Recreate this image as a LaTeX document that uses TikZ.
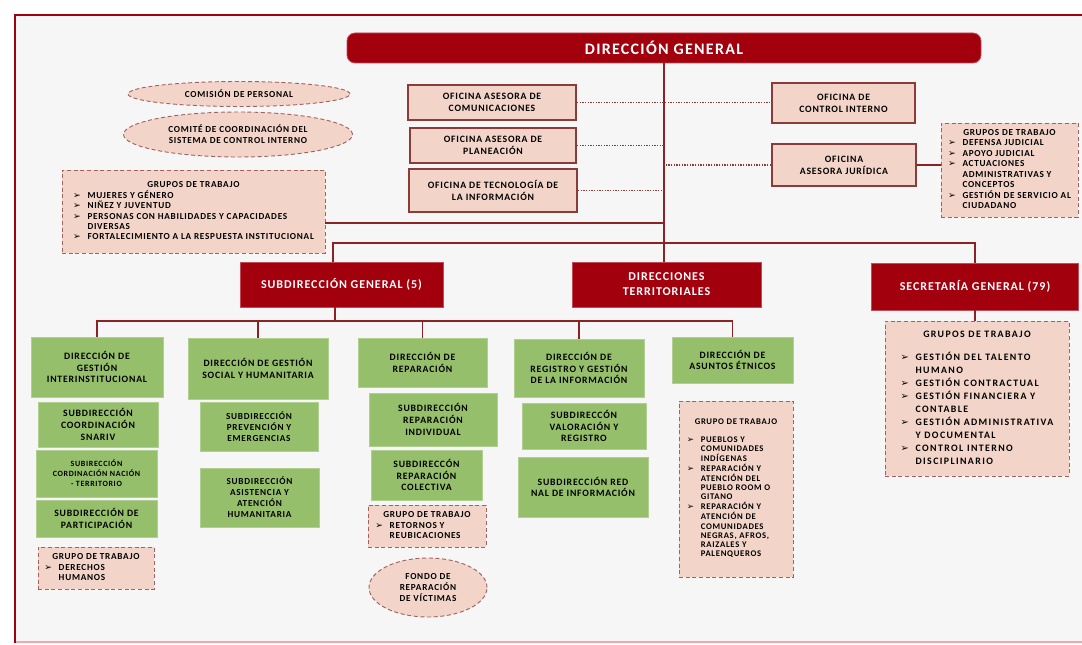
\documentclass[tikz,border=0pt]{standalone}
\usepackage{fontspec}
\setmainfont{Carlito}
\newfontfamily\lsfamily[LetterSpace=8]{Carlito}
\newfontfamily\wsfamily[LetterSpace=14]{Carlito}
\newfontfamily\arrfont{DejaVu Sans}
\usetikzlibrary{shapes.geometric}
\definecolor{dred}{HTML}{A3000E}
\definecolor{peach}{HTML}{F2D5C8}
\definecolor{brn}{HTML}{8C3B3B}
\definecolor{leaf}{HTML}{96BF6C}
\definecolor{wirec}{HTML}{8A2424}
\definecolor{paper}{HTML}{F6F6F6}
\definecolor{pinkl}{HTML}{F2A8A8}
\newlength\pxu
\setlength\pxu{0.75pt}
\newcommand\dgfont{\lsfamily\bfseries\fontsize{12}{14}\selectfont}
\newcommand\hdfont{\lsfamily\bfseries\fontsize{9}{11.3}\selectfont}
\newcommand\midfont{\lsfamily\bfseries\fontsize{7.3}{8.8}\selectfont}
\newcommand\smlfont{\lsfamily\bfseries\fontsize{6.9}{8.3}\selectfont}
\newcommand\grpfont{\lsfamily\bfseries\fontsize{6.9}{7.8}\selectfont}
\newcommand\lstfont{\wsfamily\bfseries\fontsize{7.4}{9.8}\selectfont}
\newcommand\tnyfont{\lsfamily\bfseries\fontsize{6.5}{6.9}\selectfont}
\newcommand\nanofont{\lsfamily\bfseries\fontsize{6}{7.6}\selectfont}
\newcommand\bul{{\arrfont ➢}}
\newcommand\grp[3]{\begin{tabular}{@{}l@{\hspace{5pt}}l@{}}\multicolumn{2}{c}{#1}\\[#2]#3\end{tabular}}
\tikzset{
  frame/.style={draw=dred, line width=2.2pt},
  dgbox/.style={fill=dred, draw=dred!70!white, line width=0.6pt, rounded corners=6pt, text=white, inner sep=0pt, font=\dgfont},
  headbox/.style={fill=dred, draw=dred!70!white, line width=0.6pt, text=white, inner sep=0pt, align=center, font=\hdfont},
  ofibox/.style={fill=peach, draw=brn, line width=1.3pt, inner sep=0pt, align=center, font=\midfont},
  grpbox/.style={fill=peach, draw=brn!80, densely dashed, line width=0.7pt, inner sep=0pt, font=\grpfont},
  oval/.style={ellipse, fill=peach, draw=brn!80, densely dashed, line width=0.7pt, inner sep=0pt, align=center, font=\smlfont},
  unit/.style={fill=leaf, draw=leaf!75!white, line width=0.6pt, inner sep=0pt, align=center, font=\midfont},
  subunit/.style={unit, font=\smlfont},
  wire/.style={draw=wirec, line width=1.1pt},
  dotl/.style={draw=brn, line width=0.9pt, dash pattern=on 1pt off 1pt},
}
\begin{document}
\begin{tikzpicture}[x=0.75pt,y=-0.75pt]
  \useasboundingbox (0,0) rectangle (1082,645);
  \fill[white] (0,0) rectangle (1082,645);
  \fill[paper] (15,15) rectangle (1082,642);
  \draw[pinkl, line width=1.6pt] (15,642) -- (1082,642);
  \draw[frame] (1082,15) -- (15,15) -- (15,643);

  % direccion general and offices
  \node[dgbox, minimum width=634\pxu, minimum height=30\pxu] (dg) at (664,48) {DIRECCIÓN GENERAL};
  \node[oval, minimum width=222\pxu, minimum height=25\pxu] (comi) at (239,94) {COMISIÓN DE PERSONAL};
  \node[oval, minimum width=229\pxu, minimum height=45\pxu] (comite) at (238,134.5) {COMITÉ DE COORDINACIÓN DEL\\SISTEMA DE CONTROL INTERNO};
  \node[grpbox, minimum width=263\pxu, minimum height=83\pxu] (grpl) at (193.5,211.5)
    {\grp{GRUPOS DE TRABAJO}{0pt}{\bul & MUJERES Y GÉNERO\\ \bul & NIÑEZ Y JUVENTUD\\ \bul & PERSONAS CON HABILIDADES Y CAPACIDADES\\ & DIVERSAS\\ \bul & FORTALECIMIENTO A LA RESPUESTA INSTITUCIONAL}};
  \node[ofibox, minimum width=168\pxu, minimum height=35\pxu] (comu) at (492,102.5) {OFICINA ASESORA DE\\COMUNICACIONES};
  \node[ofibox, minimum width=166\pxu, minimum height=35\pxu] (plan) at (493,145.5) {OFICINA ASESORA DE\\PLANEACIÓN};
  \node[ofibox, minimum width=168\pxu, minimum height=43\pxu] (tec) at (493,190.5) {OFICINA DE TECNOLOGÍA DE\\LA INFORMACIÓN};
  \node[ofibox, minimum width=143\pxu, minimum height=40\pxu] (ctrl) at (843.5,103) {OFICINA DE\\CONTROL INTERNO};
  \node[ofibox, minimum width=144\pxu, minimum height=42\pxu] (jur) at (844,165) {OFICINA\\ASESORA JURÍDICA};
  \node[grpbox, minimum width=137\pxu, minimum height=94\pxu] (grpr) at (1009.5,170)
    {\grp{GRUPOS DE TRABAJO}{0pt}{\bul & DEFENSA JUDICIAL\\ \bul & APOYO JUDICIAL\\ \bul & ACTUACIONES\\ & ADMINISTRATIVAS Y\\ & CONCEPTOS\\ \bul & GESTIÓN DE SERVICIO AL\\ & CIUDADANO}};

  % second level
  \node[headbox, minimum width=203\pxu, minimum height=45\pxu] (subg) at (341.5,284.5) {SUBDIRECCIÓN GENERAL (5)};
  \node[headbox, minimum width=189\pxu, minimum height=45\pxu] (dter) at (666.5,284.5) {DIRECCIONES\\TERRITORIALES};
  \node[headbox, minimum width=207\pxu, minimum height=47\pxu] (secg) at (975,286.5) {SECRETARÍA GENERAL (79)};
  \node[grpbox, font=\lstfont, minimum width=184\pxu, minimum height=155\pxu] (grps) at (977,398.5)
    {\grp{GRUPOS DE TRABAJO}{7pt}{\bul & GESTIÓN DEL TALENTO\\ & HUMANO\\ \bul & GESTIÓN CONTRACTUAL\\ \bul & GESTIÓN FINANCIERA Y\\ & CONTABLE\\ \bul & GESTIÓN ADMINISTRATIVA\\ & Y DOCUMENTAL\\ \bul & CONTROL INTERNO\\ & DISCIPLINARIO}};

  % direcciones
  \node[unit, minimum width=132\pxu, minimum height=60\pxu] (dgi) at (97,367) {DIRECCIÓN DE\\GESTIÓN\\INTERINSTITUCIONAL};
  \node[unit, minimum width=120\pxu, minimum height=45\pxu] (snariv) at (98,424.5) {SUBDIRECCIÓN\\COORDINACIÓN\\SNARIV};
  \node[subunit, font=\nanofont, minimum width=121\pxu, minimum height=47\pxu] (nacter) at (96.5,473.5) {SUBIRECCIÓN\\CORDINACIÓN NACIÓN\\- TERRITORIO};
  \node[unit, minimum width=121\pxu, minimum height=37\pxu] (parti) at (96.5,518.5) {SUBDIRECCIÓN DE\\PARTICIPACIÓN};
  \node[grpbox, minimum width=116\pxu, minimum height=42\pxu] (grpdh) at (96,568)
    {\grp{GRUPO DE TRABAJO}{0pt}{\bul & DERECHOS\\ & HUMANOS}};
  \node[unit, minimum width=140\pxu, minimum height=61\pxu] (dsh) at (258,368.5) {DIRECCIÓN DE GESTIÓN\\SOCIAL Y HUMANITARIA};
  \node[subunit, minimum width=118\pxu, minimum height=49\pxu] (prev) at (259,426.5) {SUBDIRECCIÓN\\PREVENCIÓN Y\\EMERGENCIAS};
  \node[subunit, minimum width=119\pxu, minimum height=59\pxu] (asis) at (259.5,497.5) {SUBDIRECCIÓN\\ASISTENCIA Y\\ATENCIÓN\\HUMANITARIA};
  \node[unit, minimum width=129\pxu, minimum height=49\pxu] (drep) at (422.5,362.5) {DIRECCIÓN DE\\REPARACIÓN};
  \node[unit, minimum width=128\pxu, minimum height=53\pxu] (repind) at (433,419.5) {SUBDIRECCIÓN\\REPARACIÓN\\INDIVIDUAL};
  \node[unit, minimum width=111\pxu, minimum height=50\pxu] (repcol) at (426.5,475) {SUBDIRECCÓN\\REPARACIÓN\\COLECTIVA};
  \node[grpbox, minimum width=118\pxu, minimum height=42\pxu] (grpret) at (427,526)
    {\grp{GRUPO DE TRABAJO}{0pt}{\bul & RETORNOS Y\\ & REUBICACIONES}};
  \node[oval, minimum width=118\pxu, minimum height=59\pxu] (fondo) at (428,587.5) {FONDO DE\\REPARACIÓN\\DE VÍCTIMAS};
  \node[unit, minimum width=130\pxu, minimum height=58\pxu] (dreg) at (579,368) {DIRECCIÓN DE\\REGISTRO Y GESTIÓN\\DE LA INFORMACIÓN};
  \node[unit, minimum width=124\pxu, minimum height=46\pxu] (valreg) at (584,426) {SUBDIRECCÓN\\VALORACIÓN Y\\REGISTRO};
  \node[unit, minimum width=130\pxu, minimum height=60\pxu] (rni) at (583,487) {SUBDIRECCIÓN RED\\NAL DE INFORMACIÓN};
  \node[unit, minimum width=121\pxu, minimum height=46\pxu] (detn) at (732.5,360) {DIRECCIÓN DE\\ASUNTOS ÉTNICOS};
  \node[grpbox, font=\tnyfont, minimum width=114\pxu, minimum height=176\pxu] (grpet) at (736,489)
    {\grp{GRUPO DE TRABAJO}{6pt}{\bul & PUEBLOS Y\\ & COMUNIDADES\\ & INDÍGENAS\\ \bul & REPARACIÓN Y\\ & ATENCIÓN DEL\\ & PUEBLO ROOM O\\ & GITANO\\ \bul & REPARACIÓN Y\\ & ATENCIÓN DE\\ & COMUNIDADES\\ & NEGRAS, AFROS,\\ & RAIZALES Y\\ & PALENQUEROS}};

  % connectors
  \coordinate (busT) at (333,243);
  \coordinate (grpln) at (664,223);
  \coordinate (busB) at (335,321);
  \draw[wire] (dg.south) -- (dg.south |- dter.north);
  \draw[wire] (grpln -| grpl.east) -- (grpln);
  \draw[wire] (busT |- subg.north) -- (busT) -- (busT -| secg.north) -- (secg.north);
  \draw[wire] (secg.south) -- (secg.south |- grps.north);
  \draw[wire] (jur.east) -- (grpr.west |- jur.east);
  \draw[wire] (busB |- subg.south) -- (busB);
  \draw[wire] (dgi.north) -- (dgi.north |- busB) -- (detn.north |- busB) -- (detn.north);
  \foreach \n in {dsh,drep,dreg}
    \draw[wire] (\n.north) -- (\n.north |- busB);
  \draw[dotl] (comu.east) -- (ctrl.west |- comu.east);
  \draw[dotl] (plan.east) -- (plan.east -| dg.south);
  \draw[dotl] (tec.east) -- (tec.east -| dg.south);
  \draw[dotl] (jur.west) -- (jur.west -| dg.south);
\end{tikzpicture}
\end{document}
